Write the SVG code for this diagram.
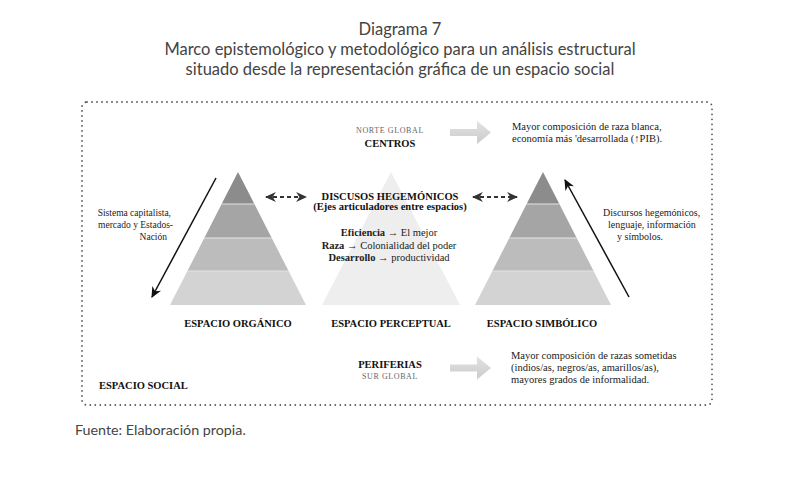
<svg xmlns="http://www.w3.org/2000/svg" width="800" height="478" viewBox="0 0 800 478">
<style>
.title{font-family:"Lato","Open Sans",sans-serif;font-size:16.5px;fill:#444;text-anchor:middle}
.src{font-family:"Lato","Open Sans",sans-serif;font-size:14.3px;fill:#444}
.t{font-family:"Liberation Serif","Times New Roman",serif;font-size:10.5px;fill:#222}
.b{font-family:"Liberation Serif","Times New Roman",serif;font-size:10.5px;font-weight:bold;fill:#111}
.sm{font-family:"Liberation Serif","Times New Roman",serif;font-size:8px;fill:#666;letter-spacing:0.6px;text-anchor:middle}
.c{text-anchor:middle}
.e{text-anchor:end}
.sep{stroke:#e4e4e4;stroke-width:1}
</style>
<defs>
<marker id="ah" viewBox="0 0 10 10" refX="9" refY="5" markerWidth="11" markerHeight="11" markerUnits="userSpaceOnUse" orient="auto-start-reverse">
<path d="M0,0.5 L10,5 L0,9.5 L3,5 z" fill="#111"/>
</marker>
<marker id="dh" viewBox="0 0 10 10" refX="9" refY="5" markerWidth="11" markerHeight="11" markerUnits="userSpaceOnUse" orient="auto-start-reverse">
<path d="M0,0.5 L10,5 L0,9.5 L3,5 z" fill="#333"/>
</marker>
<linearGradient id="ga" x1="0" y1="0" x2="0" y2="1">
<stop offset="0" stop-color="#e2e2e2"/>
<stop offset="1" stop-color="#cbcbcb"/>
</linearGradient>
<g id="pyr">
<polygon points="0,0 16.4,32 -16.4,32" fill="#8c8c8c"/>
<polygon points="-16.4,32 16.4,32 33.7,66 -33.7,66" fill="#a5a5a5"/>
<polygon points="-33.7,66 33.7,66 50.6,99 -50.6,99" fill="#bcbcbc"/>
<polygon points="-50.6,99 50.6,99 68,133 -68,133" fill="#d3d3d3"/>
<line class="sep" x1="-16.4" y1="32" x2="16.4" y2="32"/>
<line class="sep" x1="-33.7" y1="66" x2="33.7" y2="66"/>
<line class="sep" x1="-50.6" y1="99" x2="50.6" y2="99"/>
</g>
<path id="garrow" d="M450,-3.5 L477,-3.5 L477,-11.5 L491,0 L477,11.5 L477,3.5 L450,3.5 z"/>
</defs>
<rect width="800" height="478" fill="#fff"/>

<g id="title">
<text class="title" x="400" y="35">Diagrama 7</text>
<text class="title" x="400" y="55">Marco epistemológico y metodológico para un análisis estructural</text>
<text class="title" x="400" y="75">situado desde la representación gráfica de un espacio social</text>
</g>

<g id="espacio-social">
<rect x="82" y="102" width="630" height="303" rx="5" fill="none" stroke="#555" stroke-width="1.8" stroke-dasharray="0 5" stroke-linecap="round"/>
<text class="b" x="99" y="389">ESPACIO SOCIAL</text>
</g>

<g id="centros">
<text class="sm" x="390" y="133">NORTE GLOBAL</text>
<text class="b c" x="390" y="147">CENTROS</text>
</g>
<g id="centros-desc">
<text class="t" x="512" y="130">Mayor composición de raza blanca,</text>
<text class="t" x="512" y="142">economía más 'desarrollada (↑PIB).</text>
</g>

<g id="periferias">
<text class="b c" x="390" y="368">PERIFERIAS</text>
<text class="sm" x="390" y="379">SUR GLOBAL</text>
</g>
<g id="periferias-desc">
<text class="t" x="511" y="359">Mayor composición de razas sometidas</text>
<text class="t" x="511" y="371">(indios/as, negros/as, amarillos/as),</text>
<text class="t" x="511" y="383">mayores grados de informalidad.</text>
</g>

<g id="espacio-organico">
<use href="#pyr" x="238" y="172"/>
<text class="b c" x="238" y="327">ESPACIO ORGÁNICO</text>
</g>

<g id="espacio-perceptual">
<polygon points="391,172 460,305 322,305" fill="#eeeeee"/>
<text class="b c" x="391" y="327">ESPACIO PERCEPTUAL</text>
</g>

<g id="espacio-simbolico">
<use href="#pyr" x="543" y="172"/>
<text class="b c" x="542" y="327">ESPACIO SIMBÓLICO</text>
</g>

<g id="discursos">
<text class="b c" x="390" y="200">DISCUSOS HEGEMÓNICOS</text>
<text class="b c" x="390" y="210">(Ejes articuladores entre espacios)</text>
<text class="t c" x="389" y="236"><tspan font-weight="bold">Eficiencia</tspan> → El mejor</text>
<text class="t c" x="389" y="249"><tspan font-weight="bold">Raza</tspan> → Colonialidad del poder</text>
<text class="t c" x="389" y="261"><tspan font-weight="bold">Desarrollo</tspan> → productividad</text>
</g>

<g id="label-organico" font-size="9.5px">
<text class="t e" x="171" y="216" style="font-size:9.5px">Sistema capitalista,</text>
<text class="t e" x="173" y="228" style="font-size:9.5px">mercado y Estados-</text>
<text class="t e" x="167" y="240" style="font-size:9.5px">Nación</text>
</g>

<g id="label-simbolico">
<text class="t" x="603" y="216" style="font-size:10px">Discursos hegemónicos,</text>
<text class="t" x="608" y="228" style="font-size:10px">lenguaje, información</text>
<text class="t" x="617" y="240" style="font-size:10px">y símbolos.</text>
</g>

<g id="connectors">
<line x1="216" y1="178" x2="152" y2="297" stroke="#111" stroke-width="1.5" marker-end="url(#ah)"/>
<line x1="629" y1="297" x2="565" y2="180" stroke="#111" stroke-width="1.5" marker-end="url(#ah)"/>
<line x1="266" y1="197" x2="306" y2="197" stroke="#333" stroke-width="1.8" stroke-dasharray="4 3" marker-start="url(#dh)" marker-end="url(#dh)"/>
<line x1="473" y1="197" x2="517" y2="197" stroke="#333" stroke-width="1.8" stroke-dasharray="4 3" marker-start="url(#dh)" marker-end="url(#dh)"/>
<use href="#garrow" y="132.5" fill="url(#ga)"/>
<use href="#garrow" y="368" fill="url(#ga)"/>
</g>

<text class="src" x="75" y="435">Fuente: Elaboración propia.</text>
</svg>
